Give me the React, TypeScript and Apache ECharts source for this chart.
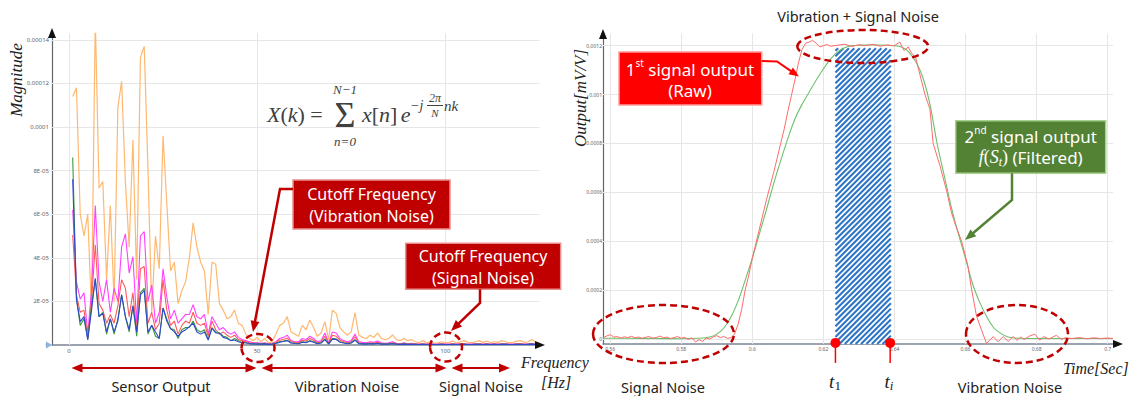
import React, { useEffect, useRef } from 'react';
import * as echarts from 'echarts';

const SANS = '"Noto Sans", "Open Sans", sans-serif';
const SERIF = '"Liberation Serif", "DejaVu Serif", serif';

// ---------- Left chart: FFT spectrum (values in units of 1E-05) ----------
const freqStart = 1;
const freqStep = 1;
const orangeMag = [
  11.4, 11.8, 6.0, 5.0, 6.0, 1.5, 15.0, 7.2, 7.5, 3.0,
  6.4, 2.0, 10.9, 12.1, 7.5, 4.5, 9.4, 3.0, 13.2, 13.7,
  8.1, 1.5, 5.0, 3.5, 9.6, 6.5, 3.4, 3.8, 1.9, 2.5,
  2.9, 4.0, 5.6, 4.5, 3.8, 3.4, 1.4, 3.8, 3.7, 1.9,
  1.6, 1.2, 1.3, 1.6, 1.0, 0.9, 0.5, 0.3, 0.2, 0.35,
  0.15, 0.3, 0.1, 0.15, 0.5, 0.9, 1.0, 1.3, 0.6, 0.5,
  0.4, 0.9, 0.7, 1.15, 0.8, 0.4, 0.55, 1.07, 0.25, 1.6,
  1.45, 0.8, 0.6, 0.45, 0.6, 1.48, 0.46, 0.35, 0.3, 0.45,
  0.35, 0.55, 0.3, 0.25, 0.3, 0.46, 0.25, 0.2, 0.3, 0.2,
  0.25, 0.15, 0.1, 0.2, 0.1, 0.15, 0.08, 0.1, 0.15, 0.1,
  0.12, 0.18, 0.1, 0.15, 0.2, 0.12, 0.1, 0.15, 0.2, 0.12,
  0.18, 0.1, 0.15, 0.12, 0.2, 0.15, 0.1, 0.12, 0.18, 0.2,
  0.12, 0.15, 0.25, 0.12, 0.1,
];
const magentaMag = [
  6.2, 2.9, 2.1, 2.4, 0.5, 2.5, 6.4, 2.9, 2.0, 3.0,
  1.5, 2.6, 2.0, 4.5, 5.1, 3.3, 4.05, 1.0, 5.0, 5.2,
  2.0, 2.75, 1.0, 1.5, 3.5, 2.2, 1.2, 1.6, 1.0, 1.2,
  1.4, 1.4, 1.85, 1.3, 1.2, 1.4, 0.5, 1.3, 1.0, 0.7,
  0.8, 0.6, 0.5, 0.6, 0.35, 0.25, 0.2, 0.15, 0.1, 0.1,
  0.08, 0.1, 0.05, 0.08, 0.15, 0.3, 0.35, 0.45, 0.2, 0.15,
  0.15, 0.3, 0.25, 0.4, 0.3, 0.15, 0.2, 0.55, 0.1, 0.6,
  0.55, 0.3, 0.2, 0.15, 0.2, 0.5, 0.15, 0.12, 0.1, 0.15,
  0.12, 0.18, 0.1, 0.08, 0.1, 0.15, 0.08, 0.06, 0.1, 0.06,
  0.08, 0.05, 0.04, 0.06, 0.04, 0.05, 0.03, 0.04, 0.05, 0.04,
  0.04, 0.06, 0.04, 0.05, 0.06, 0.04, 0.04, 0.05, 0.06, 0.04,
  0.06, 0.04, 0.05, 0.04, 0.06, 0.05, 0.04, 0.04, 0.06, 0.06,
  0.04, 0.05, 0.07, 0.04, 0.04,
];
const redMag = [
  5.05, 2.3, 1.5, 1.6, 0.3, 2.0, 4.6, 1.9, 1.6, 1.0,
  1.4, 1.0, 1.8, 3.0, 2.6, 1.3, 2.4, 0.6, 3.5, 3.6,
  1.0, 1.5, 0.7, 1.0, 3.0, 1.6, 0.9, 1.1, 0.5, 0.9,
  1.1, 1.0, 1.5, 1.0, 0.9, 1.0, 0.4, 1.1, 0.7, 0.5,
  0.6, 0.45, 0.35, 0.45, 0.25, 0.2, 0.15, 0.1, 0.08, 0.08,
  0.06, 0.08, 0.04, 0.06, 0.12, 0.22, 0.25, 0.32, 0.15, 0.12,
  0.1, 0.22, 0.18, 0.3, 0.22, 0.1, 0.15, 0.4, 0.08, 0.45,
  0.4, 0.22, 0.15, 0.1, 0.15, 0.38, 0.1, 0.08, 0.07, 0.1,
  0.08, 0.12, 0.07, 0.06, 0.07, 0.1, 0.06, 0.05, 0.07, 0.05,
  0.05, 0.04, 0.03, 0.05, 0.03, 0.04, 0.03, 0.03, 0.04, 0.03,
  0.03, 0.05, 0.03, 0.04, 0.05, 0.03, 0.03, 0.04, 0.05, 0.03,
  0.05, 0.03, 0.04, 0.03, 0.05, 0.04, 0.03, 0.03, 0.05, 0.05,
  0.03, 0.04, 0.06, 0.03, 0.03,
];
const greenMag = [
  8.6, 2.1, 0.9, 1.2, 0.3, 1.8, 3.0, 1.3, 1.5, 0.5,
  1.2, 0.5, 1.2, 2.3, 1.3, 0.6, 1.8, 0.4, 2.4, 2.6,
  0.5, 0.9, 0.4, 0.3, 1.7, 1.2, 0.75, 0.7, 0.3, 0.7,
  0.8, 0.8, 1.1, 0.7, 0.6, 0.7, 0.25, 0.8, 0.6, 0.55,
  0.4, 0.35, 0.2, 0.3, 0.2, 0.1, 0.1, 0.06, 0.05, 0.05,
  0.04, 0.05, 0.03, 0.04, 0.08, 0.15, 0.18, 0.22, 0.1, 0.08,
  0.07, 0.15, 0.12, 0.2, 0.15, 0.07, 0.1, 0.28, 0.05, 0.3,
  0.28, 0.15, 0.1, 0.07, 0.1, 0.25, 0.07, 0.05, 0.05, 0.07,
  0.05, 0.08, 0.05, 0.04, 0.05, 0.07, 0.04, 0.03, 0.05, 0.03,
  0.03, 0.03, 0.02, 0.03, 0.02, 0.03, 0.02, 0.02, 0.03, 0.02,
  0.02, 0.03, 0.02, 0.03, 0.03, 0.02, 0.02, 0.03, 0.03, 0.02,
  0.03, 0.02, 0.03, 0.02, 0.03, 0.03, 0.02, 0.02, 0.03, 0.03,
  0.02, 0.03, 0.04, 0.02, 0.02,
];
const blueMag = [
  7.6, 2.1, 1.07, 1.3, 0.23, 1.6, 3.06, 1.3, 1.45, 0.6,
  1.2, 0.6, 1.1, 2.3, 1.3, 0.7, 1.8, 0.6, 2.3, 2.5,
  0.6, 0.9, 0.6, 0.3, 1.7, 1.1, 0.75, 0.6, 0.4, 0.6,
  0.7, 0.84, 1.0, 0.6, 0.5, 0.6, 0.23, 0.77, 0.55, 0.54,
  0.35, 0.3, 0.2, 0.23, 0.15, 0.1, 0.1, 0.06, 0.05, 0.04,
  0.04, 0.05, 0.03, 0.04, 0.07, 0.13, 0.16, 0.2, 0.09, 0.07,
  0.06, 0.13, 0.1, 0.18, 0.13, 0.06, 0.09, 0.25, 0.05, 0.27,
  0.25, 0.13, 0.09, 0.06, 0.09, 0.22, 0.06, 0.05, 0.04, 0.06,
  0.05, 0.07, 0.04, 0.04, 0.04, 0.06, 0.04, 0.03, 0.04, 0.03,
  0.03, 0.03, 0.02, 0.03, 0.02, 0.03, 0.02, 0.02, 0.03, 0.02,
  0.02, 0.03, 0.02, 0.03, 0.03, 0.02, 0.02, 0.03, 0.03, 0.02,
  0.03, 0.02, 0.03, 0.02, 0.03, 0.03, 0.02, 0.02, 0.03, 0.03,
  0.02, 0.03, 0.04, 0.02, 0.02,
];
const specXMin = -4.5;
const specXMax = 125;
const specYMax = 14.3;
const specXTicks = [0, 50, 100];
const specXLabels = ['0', '50', '100'];
const specYTicks = [0, 2, 4, 6, 8, 10, 12, 14];
const specYLabels = ['0', '2E-05', '4E-05', '6E-05', '8E-05', '0.0001', '0.00012', '0.00014'];

// ---------- Right chart: time signal (values in units of 1E-04 mV/V) ----------
const rawTime = [
  0.558, 0.559, 0.56, 0.561, 0.562, 0.563, 0.564, 0.565, 0.566, 0.567,
  0.568, 0.569, 0.57, 0.571, 0.572, 0.573, 0.574, 0.575, 0.576, 0.577,
  0.578, 0.579, 0.58, 0.581, 0.582, 0.583, 0.584, 0.585, 0.586, 0.587,
  0.588, 0.589, 0.59, 0.591, 0.592, 0.593, 0.594, 0.595, 0.596, 0.597,
  0.598, 0.599, 0.6, 0.601, 0.602, 0.603, 0.604, 0.605, 0.606, 0.607,
  0.608, 0.609, 0.61, 0.611, 0.612, 0.613, 0.614, 0.615, 0.616, 0.617,
  0.618, 0.619, 0.62, 0.621, 0.622, 0.624, 0.626, 0.628, 0.63, 0.632,
  0.634, 0.636, 0.638, 0.64, 0.6415, 0.6427, 0.6439, 0.6448, 0.646, 0.6472,
  0.6486, 0.65, 0.6509, 0.6528, 0.6547, 0.656, 0.657, 0.6589, 0.6607, 0.6617,
  0.6631, 0.6645, 0.6659, 0.6668, 0.6678, 0.6685, 0.6692, 0.6706, 0.672, 0.6734,
  0.6745, 0.6755, 0.6765, 0.678, 0.6795, 0.6809, 0.682, 0.6835, 0.6845, 0.6856,
  0.687, 0.688, 0.69, 0.692, 0.694, 0.696, 0.698, 0.7, 0.7015,
];
const rawValue = [
  0.05, 0.12, 0.18, 0.08, 0.1, 0.04, 0.09, 0.06, 0.11, 0.05,
  0.08, 0.03, 0.07, 0.1, 0.04, 0.06, 0.12, 0.05, 0.08, 0.02,
  0.06, 0.1, 0.03, 0.07, -0.02, 0.05, -0.12, -0.03, -0.1, 0.04,
  0.0, 0.08, 0.14, 0.06, 0.1, 0.03, 0.05, 0.2, 0.6, 1.2,
  2.0, 2.6, 3.3, 3.9, 4.5, 5.1, 5.7, 6.25, 6.8, 7.4,
  8.0, 8.6, 9.3, 9.95, 10.6, 11.3, 11.85, 12.1, 12.15, 12.22,
  12.1, 11.95, 12.0, 12.05, 11.98, 12.02, 12.06, 11.97, 12.04, 12.0,
  12.06, 11.98, 12.03, 12.0, 12.15, 11.8, 11.95, 11.7, 11.5, 10.8,
  10.0, 9.4, 8.0, 7.1, 6.05, 5.2, 4.74, 4.0, 2.98, 2.04,
  0.94, 0.37, -0.18, -0.05, 0.1, -0.02, -0.11, 0.1, -0.1, 0.1,
  -0.05, 0.08, -0.02, 0.12, 0.2, -0.05, 0.1, 0.0, 0.08, 0.15,
  -0.02, 0.05, 0.02, 0.06, 0.01, 0.05, 0.02, 0.04, 0.02,
];
const filtTime = [
  0.558, 0.565, 0.572, 0.58, 0.585, 0.588, 0.59, 0.592, 0.594, 0.596,
  0.598, 0.6, 0.602, 0.604, 0.606, 0.608, 0.61, 0.612, 0.614, 0.616,
  0.618, 0.62, 0.622, 0.624, 0.626, 0.628, 0.632, 0.636, 0.64, 0.642,
  0.644, 0.646, 0.648, 0.65, 0.652, 0.654, 0.656, 0.658, 0.66, 0.662,
  0.664, 0.666, 0.668, 0.67, 0.672, 0.675, 0.68, 0.69, 0.7015,
];
const filtValue = [
  0.03, 0.03, 0.02, 0.01, 0.03, 0.08, 0.2, 0.45, 0.9, 1.55,
  2.4, 3.3, 4.3, 5.3, 6.35, 7.3, 8.2, 9.0, 9.6, 10.1,
  10.6, 11.05, 11.45, 11.75, 11.92, 12.0, 12.03, 12.03, 12.0, 11.95,
  11.75, 11.35, 10.7, 9.6, 8.0, 6.7, 5.4, 4.3, 3.3, 2.25,
  1.5, 0.9, 0.45, 0.22, 0.08, 0.03, 0.02, 0.02, 0.02,
];
const hatchRange = [0.6234, 0.639];
const hatchTop = 11.9;
const markerTimes = [0.6234, 0.6388];
const timeXMin = 0.558;
const timeXMax = 0.7015;
const outYMin = -0.2;
const outYMax = 12.5;
const timeXTicks = [0.56, 0.58, 0.6, 0.62, 0.64, 0.66, 0.68, 0.7];
const timeXLabels = ['0.56', '0.58', '0.6', '0.62', '0.64', '0.66', '0.68', '0.7'];
const outYTicks = [0, 2, 4, 6, 8, 10, 12];
const outYLabels = ['0', '0.0002', '0.0004', '0.0006', '0.0008', '0.001', '0.0012'];

// ---------- helpers ----------
const fmt = (ticks: number[], labels: string[]) => (v: number) => {
  const i = ticks.findIndex((t) => Math.abs(t - v) < 1e-9);
  return i >= 0 ? labels[i] : '';
};

function head(tip: number[], from: number[], color: string, len: number, w: number) {
  const dx = tip[0] - from[0];
  const dy = tip[1] - from[1];
  const L = Math.hypot(dx, dy);
  const ux = dx / L;
  const uy = dy / L;
  const bx = tip[0] - ux * len;
  const by = tip[1] - uy * len;
  return {
    type: 'polygon',
    z: 101,
    silent: true,
    shape: {
      points: [
        [tip[0], tip[1]],
        [bx - (uy * w) / 2, by + (ux * w) / 2],
        [bx + (uy * w) / 2, by - (ux * w) / 2],
      ],
    },
    style: { fill: color },
  };
}

function arrow(points: number[][], color: string, lw: number, len = 11, w = 9, both = false) {
  const pts = points.map((p) => [p[0], p[1]]);
  const n = pts.length;
  const els: any[] = [];
  els.push(head(points[n - 1], points[n - 2], color, len, w));
  {
    const a = pts[n - 2];
    const b = pts[n - 1];
    const L = Math.hypot(b[0] - a[0], b[1] - a[1]);
    pts[n - 1] = [b[0] - ((b[0] - a[0]) / L) * len * 0.7, b[1] - ((b[1] - a[1]) / L) * len * 0.7];
  }
  if (both) {
    els.push(head(points[0], points[1], color, len, w));
    const a = pts[1];
    const b = pts[0];
    const L = Math.hypot(b[0] - a[0], b[1] - a[1]);
    pts[0] = [b[0] - ((b[0] - a[0]) / L) * len * 0.7, b[1] - ((b[1] - a[1]) / L) * len * 0.7];
  }
  els.unshift({
    type: 'polyline',
    z: 100,
    silent: true,
    shape: { points: pts },
    style: { stroke: color, lineWidth: lw, fill: null },
  });
  return els;
}

function txt(x: number, y: number, text: string, extra: any = {}, rot = 0) {
  return {
    type: 'text',
    z: 102,
    silent: true,
    x,
    y,
    rotation: rot,
    style: {
      text,
      fill: '#222',
      fontSize: 14,
      fontFamily: SANS,
      align: 'center',
      verticalAlign: 'middle',
      ...extra,
    },
  };
}

function dashedEllipse(cx: number, cy: number, rx: number, ry: number) {
  return {
    type: 'ellipse',
    z: 100,
    silent: true,
    shape: { cx, cy, rx, ry },
    style: { fill: null, stroke: '#c00000', lineWidth: 2.5, lineDash: [7, 4] },
  };
}

function box(x: number, y: number, w: number, h: number, fill: string, stroke: string) {
  return {
    type: 'rect',
    z: 100,
    silent: true,
    shape: { x, y, width: w, height: h },
    style: { fill, stroke, lineWidth: 1.5 },
  };
}

function tri(points: number[][], fill: string) {
  return { type: 'polygon', z: 99, silent: true, shape: { points }, style: { fill } };
}

const gridLineStyle = { color: '#e6e6e6', width: 1, type: 'solid' };

export default function App() {
  const ref = useRef<HTMLDivElement>(null);

  useEffect(() => {
    if (!ref.current) return;
    const chart = echarts.init(ref.current, null, { renderer: 'svg' });

    const toPairs = (vals: number[]) => vals.map((v, i) => [freqStart + i * freqStep, v]);
    const zip = (xs: number[], ys: number[]) => xs.map((x, i) => [x, ys[i]]);

    const specSeries = (name: string, vals: number[], color: string, width = 1.1, opacity = 1) => ({
      type: 'line',
      name,
      xAxisIndex: 0,
      yAxisIndex: 0,
      data: toPairs(vals),
      showSymbol: false,
      symbol: 'none',
      lineStyle: { color, width, opacity },
      z: 3,
    });

    const mathRich = {
      i: { fontFamily: SERIF, fontStyle: 'italic', fontSize: 22, fill: '#404040' },
      r: { fontFamily: SERIF, fontSize: 22, fill: '#404040' },
    };

    const graphic: any[] = [
      // axis arrowheads
      tri([[52, 28], [48, 38], [56, 38]], '#111'),
      tri([[545, 345], [535, 341], [535, 349]], '#111'),
      tri([[46, 341.5], [46, 348.5], [52, 345]], '#8fb3de'),
      tri([[603, 29], [599, 39], [607, 39]], '#111'),
      tri([[1123, 344], [1113, 340], [1113, 348]], '#111'),
      // left chart axis titles
      txt(16, 80, 'Magnitude', { fontFamily: SERIF, fontStyle: 'italic', fontSize: 17 }, Math.PI / 2),
      txt(521, 362, 'Frequency', { fontFamily: SERIF, fontStyle: 'italic', fontSize: 16, align: 'left' }),
      txt(541, 382, '[Hz]', { fontFamily: SERIF, fontStyle: 'italic', fontSize: 16, align: 'left' }),
      // formula
      {
        type: 'text', z: 102, silent: true, x: 267, y: 114,
        style: { text: '{i|X}{r|(}{i|k}{r|) =}', rich: mathRich, align: 'left', verticalAlign: 'middle', fill: '#404040' },
      },
      txt(345, 115, 'Σ', { fontFamily: SERIF, fontSize: 36, fill: '#404040' }),
      txt(345, 89, 'N−1', { fontFamily: SERIF, fontStyle: 'italic', fontSize: 13, fill: '#404040' }),
      txt(345, 141, 'n=0', { fontFamily: SERIF, fontStyle: 'italic', fontSize: 13, fill: '#404040' }),
      {
        type: 'text', z: 102, silent: true, x: 362, y: 114,
        style: { text: '{i|x}{r|[}{i|n}{r|]} {i|e}', rich: mathRich, align: 'left', verticalAlign: 'middle', fill: '#404040' },
      },
      txt(410, 105, '−j', { fontFamily: SERIF, fontStyle: 'italic', fontSize: 14, fill: '#404040', align: 'left' }),
      txt(435, 98, '2π', { fontFamily: SERIF, fontStyle: 'italic', fontSize: 12, fill: '#404040' }),
      { type: 'line', z: 102, silent: true, shape: { x1: 427, y1: 105.5, x2: 443, y2: 105.5 }, style: { stroke: '#404040', lineWidth: 1 } },
      txt(435, 113, 'N', { fontFamily: SERIF, fontStyle: 'italic', fontSize: 11, fill: '#404040' }),
      txt(444, 106, 'nk', { fontFamily: SERIF, fontStyle: 'italic', fontSize: 15, fill: '#404040', align: 'left' }),
      // cutoff boxes
      box(293, 180, 157, 49, '#c00000', '#e89090'),
      txt(371.5, 193.5, 'Cutoff Frequency', { fill: '#fff', fontSize: 16, lineHeight: 19 }),
      txt(371.5, 215.5, '(Vibration Noise)', { fill: '#fff', fontSize: 16, lineHeight: 19 }),
      box(405.7, 243.3, 155, 46, '#c00000', '#e89090'),
      txt(483, 255.5, 'Cutoff Frequency', { fill: '#fff', fontSize: 16, lineHeight: 19 }),
      txt(483, 277.5, '(Signal Noise)', { fill: '#fff', fontSize: 16, lineHeight: 19 }),
      ...arrow([[293, 189], [280, 189], [253, 332]], '#c00000', 2.5),
      ...arrow([[480, 289.3], [480, 303], [451, 331]], '#c00000', 2.5),
      dashedEllipse(258, 348, 16.5, 14),
      dashedEllipse(446, 347, 16, 14.5),
      ...arrow([[71.5, 368], [256.5, 368]], '#c00000', 2, 11, 9, true),
      ...arrow([[261.5, 368], [446.5, 368]], '#c00000', 2, 11, 9, true),
      ...arrow([[451.5, 368], [510, 368]], '#c00000', 2, 11, 9, true),
      txt(161, 386, 'Sensor Output', { fontSize: 14.5 }),
      txt(347, 386, 'Vibration Noise', { fontSize: 14.5 }),
      txt(481, 386, 'Signal Noise', { fontSize: 14.5 }),

      // right chart
      txt(858, 16, 'Vibration + Signal Noise', { fontSize: 14.5 }),
      txt(580, 98, 'Output[mV/V]', { fontFamily: SERIF, fontStyle: 'italic', fontSize: 17 }, Math.PI / 2),
      txt(1063, 368, 'Time[Sec]', { fontFamily: SERIF, fontStyle: 'italic', fontSize: 16, align: 'left' }),
      txt(663, 387, 'Signal Noise', { fontSize: 14.5 }),
      txt(1010, 387, 'Vibration Noise', { fontSize: 14.5 }),
      dashedEllipse(862.8, 46.5, 65.5, 16.5),
      dashedEllipse(663.5, 334, 70.5, 29),
      dashedEllipse(1017, 334, 51, 29),
      box(619, 52, 142.7, 53, '#ff0000', '#ff9a9a'),
      {
        type: 'text', z: 102, silent: true, x: 690, y: 69,
        style: {
          text: '{n|1}{s|st}{n| signal output}',
          align: 'center', verticalAlign: 'middle', fill: '#fff',
          rich: {
            n: { fontFamily: SANS, fontSize: 17, fill: '#fff', lineHeight: 22 },
            s: { fontFamily: SANS, fontSize: 10, fill: '#fff', lineHeight: 22, verticalAlign: 'top' },
          },
        },
      },
      txt(690, 90, '(Raw)', { fill: '#fff', fontSize: 17 }),
      ...arrow([[761.7, 61], [777, 61.5], [799, 76.5]], '#ff0000', 2, 10, 8),
      box(955.7, 120.7, 150, 52.6, '#548235', '#a9d18e'),
      {
        type: 'text', z: 102, silent: true, x: 1030.7, y: 136,
        style: {
          text: '{n|2}{s|nd}{n| signal output}',
          align: 'center', verticalAlign: 'middle', fill: '#fff',
          rich: {
            n: { fontFamily: SANS, fontSize: 17, fill: '#fff', lineHeight: 22 },
            s: { fontFamily: SANS, fontSize: 10, fill: '#fff', lineHeight: 22, verticalAlign: 'top' },
          },
        },
      },
      {
        type: 'text', z: 102, silent: true, x: 1030.7, y: 157,
        style: {
          text: '{m|f}{r|(}{m|S}{b|t}{r|)}{n| (Filtered)}',
          align: 'center', verticalAlign: 'middle', fill: '#fff',
          rich: {
            m: { fontFamily: SERIF, fontStyle: 'italic', fontSize: 18, fill: '#fff', lineHeight: 22 },
            r: { fontFamily: SERIF, fontSize: 18, fill: '#fff', lineHeight: 22 },
            b: { fontFamily: SERIF, fontStyle: 'italic', fontSize: 12, fill: '#fff', lineHeight: 22, verticalAlign: 'bottom' },
            n: { fontFamily: SANS, fontSize: 17, fill: '#fff', lineHeight: 22 },
          },
        },
      },
      ...arrow([[1012, 173.3], [1012, 200], [965, 240]], '#548235', 2.5, 11, 9),
      {
        type: 'text', z: 102, silent: true, x: 835, y: 381,
        style: {
          text: '{t|t}{b|1}', align: 'center', verticalAlign: 'middle',
          rich: {
            t: { fontFamily: SERIF, fontStyle: 'italic', fontSize: 19, fill: '#222', lineHeight: 22 },
            b: { fontFamily: SERIF, fontSize: 13, fill: '#222', lineHeight: 22, verticalAlign: 'bottom' },
          },
        },
      },
      {
        type: 'text', z: 102, silent: true, x: 889, y: 381,
        style: {
          text: '{t|t}{b|i}', align: 'center', verticalAlign: 'middle',
          rich: {
            t: { fontFamily: SERIF, fontStyle: 'italic', fontSize: 19, fill: '#222', lineHeight: 22 },
            b: { fontFamily: SERIF, fontStyle: 'italic', fontSize: 13, fill: '#222', lineHeight: 22, verticalAlign: 'bottom' },
          },
        },
      },
    ];

    const axisLabelSmall = { fontSize: 6, color: '#666', fontFamily: SANS };

    const option: any = {
      animation: false,
      backgroundColor: '#fff',
      grid: [
        { left: 52, top: 33.3, width: 487.4, height: 311.7 },
        { left: 603, top: 33.5, width: 510, height: 310.4 },
      ],
      xAxis: [
        {
          gridIndex: 0,
          type: 'value',
          min: specXMin,
          max: specXMax,
          axisLine: { show: true, onZero: false, lineStyle: { color: '#7b8694', width: 1.5 } },
          axisTick: { show: false },
          splitLine: { show: false },
          axisLabel: { ...axisLabelSmall, margin: 3, customValues: specXTicks, formatter: fmt(specXTicks, specXLabels) },
        },
        {
          gridIndex: 1,
          type: 'value',
          min: timeXMin,
          max: timeXMax,
          axisLine: { show: true, onZero: false, lineStyle: { color: '#7b8694', width: 1.5 } },
          axisTick: { show: false },
          splitLine: { show: false },
          axisLabel: { ...axisLabelSmall, fontSize: 5, margin: 3, customValues: timeXTicks, formatter: fmt(timeXTicks, timeXLabels) },
        },
      ],
      yAxis: [
        {
          gridIndex: 0,
          type: 'value',
          min: 0,
          max: specYMax,
          axisLine: { show: true, onZero: false, lineStyle: { color: '#666', width: 1.2 } },
          axisTick: { show: false },
          splitLine: { show: false },
          axisLabel: { ...axisLabelSmall, margin: 3, customValues: specYTicks, formatter: fmt(specYTicks, specYLabels) },
        },
        {
          gridIndex: 1,
          type: 'value',
          min: outYMin,
          max: outYMax,
          axisLine: { show: true, onZero: false, lineStyle: { color: '#666', width: 1.2 } },
          axisTick: { show: false },
          splitLine: { show: false },
          axisLabel: { ...axisLabelSmall, fontSize: 5, margin: 1, customValues: outYTicks, formatter: fmt(outYTicks, outYLabels) },
        },
      ],
      series: [
        {
          type: 'line',
          xAxisIndex: 0,
          yAxisIndex: 0,
          data: [[0, 0]],
          symbol: 'none',
          lineStyle: { width: 0 },
          z: 1,
          markLine: {
            silent: true,
            symbol: ['none', 'none'],
            label: { show: false },
            lineStyle: gridLineStyle,
            z: 1,
            data: [
              ...specXTicks.map((v) => ({ xAxis: v })),
              ...specYTicks.filter((v) => v > 0).map((v) => ({ yAxis: v })),
            ],
          },
        },
        specSeries('orange', orangeMag, '#ffb060', 1.2, 0.9),
        specSeries('magenta', magentaMag, '#ff40ff', 1.1),
        specSeries('red', redMag, '#ff5a5a', 1.1),
        specSeries('green', greenMag, '#3a9a3a', 1.1),
        specSeries('blue', blueMag, '#3048d0', 1.1),
        {
          type: 'line',
          xAxisIndex: 1,
          yAxisIndex: 1,
          data: [[0.6, 0]],
          symbol: 'none',
          lineStyle: { width: 0 },
          z: 1,
          markLine: {
            silent: true,
            symbol: ['none', 'none'],
            label: { show: false },
            lineStyle: gridLineStyle,
            z: 1,
            data: [
              ...timeXTicks.map((v) => ({ xAxis: v })),
              ...outYTicks.map((v) => ({ yAxis: v })),
            ],
          },
        },
        {
          type: 'custom',
          xAxisIndex: 1,
          yAxisIndex: 1,
          z: 2,
          clip: false,
          data: [[hatchRange[0], hatchRange[1], hatchTop]],
          encode: { x: [0, 1], y: 2 },
          renderItem: (params: any, api: any) => {
            const a = api.coord([api.value(0), api.value(2)]);
            const b = api.coord([api.value(1), outYMin]);
            const x0 = a[0], y0 = a[1], x1 = b[0], y1 = b[1];
            const step = 5.4;
            const children: any[] = [
              { type: 'rect', shape: { x: x0, y: y0, width: x1 - x0, height: y1 - y0 }, style: { fill: '#fff' } },
            ];
            for (let c = x0 + y0 + step / 2; c < x1 + y1; c += step) {
              const ya = Math.max(y0, c - x1);
              const yb = Math.min(y1, c - x0);
              if (yb <= ya) continue;
              children.push({
                type: 'line',
                shape: { x1: c - ya, y1: ya, x2: c - yb, y2: yb },
                style: { stroke: '#2e75c6', lineWidth: 2.1 },
              });
            }
            return { type: 'group', children };
          },
        },
        {
          type: 'line',
          name: 'filtered',
          xAxisIndex: 1,
          yAxisIndex: 1,
          data: zip(filtTime, filtValue),
          showSymbol: false,
          symbol: 'none',
          smooth: 0.3,
          clip: false,
          lineStyle: { color: '#6cc06c', width: 1.1 },
          z: 3,
        },
        {
          type: 'line',
          name: 'raw',
          xAxisIndex: 1,
          yAxisIndex: 1,
          data: zip(rawTime, rawValue),
          showSymbol: false,
          symbol: 'none',
          clip: false,
          lineStyle: { color: '#ff6a6a', width: 1 },
          z: 3,
        },
        {
          type: 'custom',
          xAxisIndex: 1,
          yAxisIndex: 1,
          z: 5,
          clip: false,
          data: markerTimes.map((t) => [t]),
          encode: { x: 0 },
          renderItem: (params: any, api: any) => {
            const p = api.coord([api.value(0), outYMin]);
            return {
              type: 'group',
              children: [
                { type: 'line', shape: { x1: p[0], y1: p[1], x2: p[0], y2: p[1] + 19 }, style: { stroke: '#ff0000', lineWidth: 1.5 } },
                { type: 'circle', shape: { cx: p[0], cy: p[1] - 1, r: 5 }, style: { fill: '#ff0000' } },
              ],
            };
          },
        },
      ],
      graphic: { elements: graphic },
    };

    chart.setOption(option);
    return () => chart.dispose();
  }, []);

  return (
    <div
      ref={ref}
      style={{ position: 'absolute', left: 0, top: 0, width: 1138, height: 396, background: '#fff' }}
    />
  );
}
